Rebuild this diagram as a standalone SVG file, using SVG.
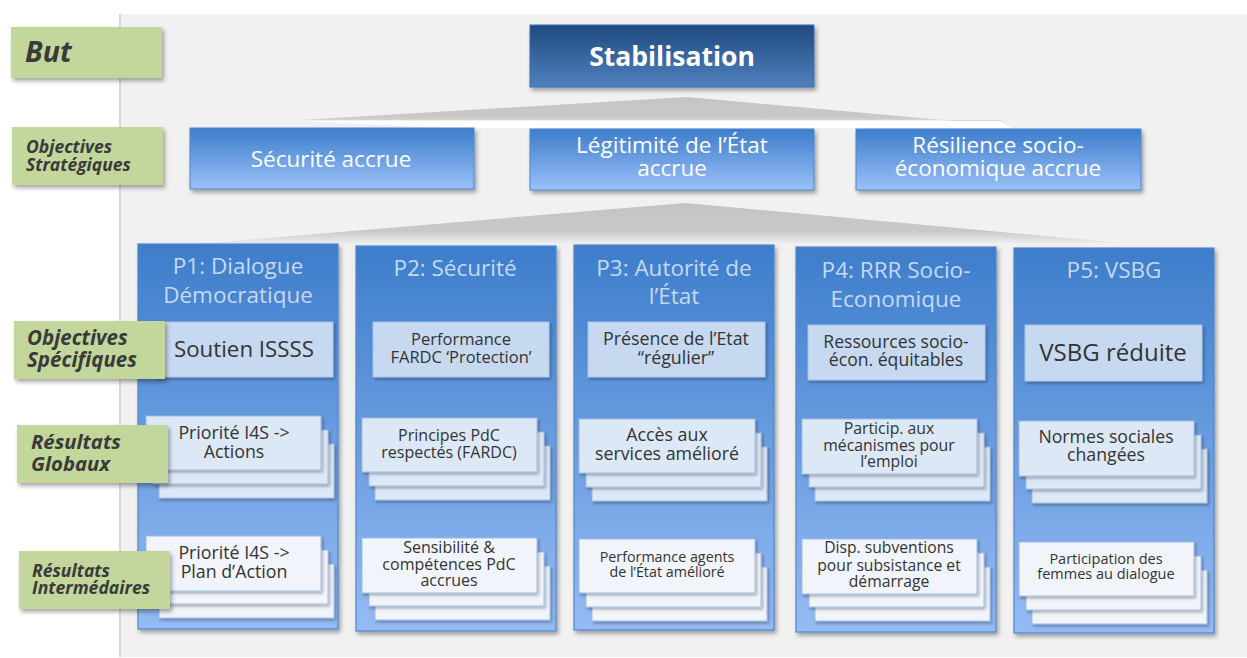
<svg xmlns="http://www.w3.org/2000/svg" width="1247" height="658" viewBox="0 0 1247 658">
<defs>
<linearGradient id="gStab" x1="0" y1="0" x2="0" y2="1"><stop offset="0" stop-color="#1f4a80"/><stop offset="1" stop-color="#4f81bd"/></linearGradient>
<linearGradient id="gStrat" x1="0" y1="0" x2="0" y2="1"><stop offset="0" stop-color="#3c7dcb"/><stop offset="1" stop-color="#9bc1f8"/></linearGradient>
<linearGradient id="gPil" x1="0" y1="0" x2="0" y2="1"><stop offset="0" stop-color="#3d7dcb"/><stop offset="1" stop-color="#95bbf4"/></linearGradient>
<linearGradient id="gTrap" x1="0" y1="0" x2="0" y2="1"><stop offset="0" stop-color="#c4c4c4"/><stop offset="0.7" stop-color="#c9c9c9"/><stop offset="1" stop-color="#efefef"/></linearGradient>
<filter id="sh" x="-10%" y="-10%" width="125%" height="130%"><feDropShadow dx="2" dy="3" stdDeviation="2" flood-color="#000" flood-opacity="0.35"/></filter>
<filter id="shs" x="-10%" y="-10%" width="125%" height="130%"><feDropShadow dx="1.5" dy="2" stdDeviation="1.5" flood-color="#000" flood-opacity="0.3"/></filter>
</defs>
<style>
text{font-family:"Open Sans","Noto Sans","DejaVu Sans",sans-serif;}
.lab{fill:#c3d69b;filter:url(#sh);}
.labt{font-weight:bold;font-style:italic;fill:#3a3a3a;}
.strat{fill:url(#gStrat);stroke:#4a86d0;stroke-width:1;filter:url(#sh);}
.st{fill:#ffffff;font-size:22.5px;text-anchor:middle;}
.pil{fill:url(#gPil);stroke:#4f86cc;stroke-width:1.2;filter:url(#sh);}
.pt{fill:#c6d9f1;font-size:22.5px;text-anchor:middle;}
.obj{fill:#c6d9f1;stroke:#a8c3e6;stroke-width:1;filter:url(#shs);}
.rg{fill:#dde8f6;stroke:#9fbce3;stroke-width:1;filter:url(#shs);}
.ri{fill:#f1f5fb;stroke:#9fbce3;stroke-width:1;filter:url(#shs);}
.bt{fill:#333333;text-anchor:middle;}
.arr{fill:#8db3e2;stroke:#6a98d2;stroke-width:1.2;}
</style>

<!-- background panel -->
<rect x="120" y="14" width="1127" height="643" fill="#f1f1f1"/>
<rect x="119" y="14" width="2" height="643" fill="#d8d8d8"/>

<g id="connectors">
  <polygon points="300,120 687,97 1010,126 1000,120" fill="url(#gTrap)"/>
  <polygon points="310,121 1000,121 1012,128 440,128" fill="#ffffff"/>
  <polygon points="197,244 685,203 1123,243" fill="url(#gTrap)"/>
  <polygon class="arr" points="242,382 267,397 255,397 255,413 229,413 229,397 217,397"/>
  <polygon class="arr" points="456,382 481,397 469,397 469,413 443,413 443,397 431,397"/>
  <polygon class="arr" points="669,382 694,397 682,397 682,413 656,413 656,397 644,397"/>
  <polygon class="arr" points="894,382 919,397 907,397 907,413 881,413 881,397 869,397"/>
  <polygon class="arr" points="1107,382 1132,397 1120,397 1120,413 1094,413 1094,397 1082,397"/>
  <polygon class="arr" points="243,502 268,517 256,517 256,533 230,533 230,517 218,517"/>
  <polygon class="arr" points="457,502 482,517 470,517 470,533 444,533 444,517 432,517"/>
  <polygon class="arr" points="670,502 695,517 683,517 683,533 657,533 657,517 645,517"/>
  <polygon class="arr" points="895,502 920,517 908,517 908,533 882,533 882,517 870,517"/>
  <polygon class="arr" points="1108,502 1133,517 1121,517 1121,533 1095,533 1095,517 1083,517"/>
</g>

<g id="stabilisation">
  <rect x="530" y="25" width="284" height="62" fill="url(#gStab)" stroke="#3e6da8" stroke-width="1" filter="url(#sh)"/>
  <text x="672" y="66" fill="#ffffff" font-size="26.5" font-weight="bold" text-anchor="middle">Stabilisation</text>
</g>

<g id="strat-securite">
  <rect class="strat" x="190" y="128" width="284" height="61"/>
  <text class="st" x="331" y="167">Sécurité accrue</text>
</g>
<g id="strat-legitimite">
  <rect class="strat" x="530" y="129" width="284" height="61"/>
  <text class="st" x="672" y="153">Légitimité de l’État</text>
  <text class="st" x="672" y="176">accrue</text>
</g>
<g id="strat-resilience">
  <rect class="strat" x="856" y="129" width="285" height="61"/>
  <text class="st" x="998" y="153">Résilience socio-</text>
  <text class="st" x="998" y="176">économique accrue</text>
</g>

<!-- Pillar 1 -->
<g id="p1">
  <rect class="pil" x="138" y="244" width="200" height="385"/>
  <text class="pt" x="238" y="274">P1: Dialogue</text>
  <text class="pt" x="238" y="303">Démocratique</text>
  <rect class="obj" x="155" y="322" width="178" height="55"/>
  <text class="bt" x="244" y="357" font-size="22.3">Soutien ISSSS</text>
  <rect class="rg" x="159" y="444" width="175" height="54"/>
  <rect class="rg" x="153" y="430" width="175" height="54"/>
  <rect class="rg" x="146" y="416" width="175" height="54"/>
  <text class="bt" x="234" y="439" font-size="17.8">Priorité I4S -&gt;</text>
  <text class="bt" x="234" y="458" font-size="17.8">Actions</text>
  <rect class="ri" x="159" y="564" width="175" height="54"/>
  <rect class="ri" x="153" y="550" width="175" height="54"/>
  <rect class="ri" x="146" y="536" width="175" height="55"/>
  <text class="bt" x="234" y="559" font-size="17.8">Priorité I4S -&gt;</text>
  <text class="bt" x="234" y="578" font-size="17.8">Plan d’Action</text>
</g>

<!-- Pillar 2 -->
<g id="p2">
  <rect class="pil" x="356" y="246" width="200" height="385"/>
  <text class="pt" x="455" y="276">P2: Sécurité</text>
  <rect class="obj" x="373" y="322" width="176" height="55"/>
  <text class="bt" x="461" y="345" font-size="16.5">Performance</text>
  <text class="bt" x="461" y="363" font-size="16.5">FARDC ‘Protection’</text>
  <rect class="rg" x="375" y="446" width="175" height="54"/>
  <rect class="rg" x="369" y="432" width="175" height="54"/>
  <rect class="rg" x="362" y="418" width="175" height="54"/>
  <text class="bt" x="449" y="441" font-size="16">Principes PdC</text>
  <text class="bt" x="449" y="458" font-size="16">respectés (FARDC)</text>
  <rect class="ri" x="375" y="566" width="175" height="54"/>
  <rect class="ri" x="369" y="552" width="175" height="54"/>
  <rect class="ri" x="362" y="538" width="175" height="55"/>
  <text class="bt" x="449" y="553" font-size="16">Sensibilité &amp;</text>
  <text class="bt" x="449" y="570" font-size="16">compétences PdC</text>
  <text class="bt" x="449" y="586" font-size="16">accrues</text>
</g>

<!-- Pillar 3 -->
<g id="p3">
  <rect class="pil" x="574" y="245" width="200" height="385"/>
  <text class="pt" x="674" y="276">P3: Autorité de</text>
  <text class="pt" x="674" y="304">l’État</text>
  <rect class="obj" x="588" y="322" width="177" height="55"/>
  <text class="bt" x="676" y="345" font-size="17.8">Présence de l’Etat</text>
  <text class="bt" x="676" y="364" font-size="17.8">“régulier”</text>
  <rect class="rg" x="592" y="447" width="175" height="54"/>
  <rect class="rg" x="586" y="433" width="175" height="54"/>
  <rect class="rg" x="579" y="419" width="176" height="54"/>
  <text class="bt" x="667" y="441" font-size="17.8">Accès aux</text>
  <text class="bt" x="667" y="460" font-size="17.8">services amélioré</text>
  <rect class="ri" x="592" y="567" width="175" height="54"/>
  <rect class="ri" x="586" y="553" width="175" height="54"/>
  <rect class="ri" x="579" y="539" width="176" height="54"/>
  <text class="bt" x="667" y="562" font-size="14.3">Performance agents</text>
  <text class="bt" x="667" y="577" font-size="14.3">de l’État amélioré</text>
</g>

<!-- Pillar 4 -->
<g id="p4">
  <rect class="pil" x="796" y="247" width="200" height="385"/>
  <text class="pt" x="896" y="278">P4: RRR Socio-</text>
  <text class="pt" x="896" y="307">Economique</text>
  <rect class="obj" x="808" y="325" width="177" height="55"/>
  <text class="bt" x="896" y="348" font-size="17.6">Ressources socio-</text>
  <text class="bt" x="896" y="366" font-size="17.6">écon. équitables</text>
  <rect class="rg" x="815" y="447" width="175" height="54"/>
  <rect class="rg" x="809" y="433" width="175" height="54"/>
  <rect class="rg" x="802" y="419" width="175" height="55"/>
  <text class="bt" x="889" y="434" font-size="15.8">Particip. aux</text>
  <text class="bt" x="889" y="451" font-size="15.8">mécanismes pour</text>
  <text class="bt" x="889" y="467" font-size="15.8">l’emploi</text>
  <rect class="ri" x="815" y="567" width="175" height="54"/>
  <rect class="ri" x="809" y="553" width="175" height="54"/>
  <rect class="ri" x="802" y="539" width="175" height="55"/>
  <text class="bt" x="889" y="553" font-size="15.7">Disp. subventions</text>
  <text class="bt" x="889" y="571" font-size="15.7">pour subsistance et</text>
  <text class="bt" x="889" y="587" font-size="15.7">démarrage</text>
</g>

<!-- Pillar 5 -->
<g id="p5">
  <rect class="pil" x="1014" y="248" width="200" height="385"/>
  <text class="pt" x="1114" y="278">P5: VSBG</text>
  <rect class="obj" x="1025" y="325" width="177" height="56"/>
  <text class="bt" x="1113" y="361" font-size="24">VSBG réduite</text>
  <rect class="rg" x="1032" y="449" width="175" height="54"/>
  <rect class="rg" x="1026" y="435" width="175" height="54"/>
  <rect class="rg" x="1019" y="421" width="175" height="55"/>
  <text class="bt" x="1106" y="443" font-size="17.7">Normes sociales</text>
  <text class="bt" x="1106" y="461" font-size="17.7">changées</text>
  <rect class="ri" x="1032" y="570" width="175" height="54"/>
  <rect class="ri" x="1026" y="556" width="175" height="54"/>
  <rect class="ri" x="1019" y="542" width="175" height="54"/>
  <text class="bt" x="1106" y="564" font-size="14.5">Participation des</text>
  <text class="bt" x="1106" y="579" font-size="14.5">femmes au dialogue</text>
</g>

<!-- Level labels -->
<g id="label-but">
  <rect class="lab" x="11" y="27" width="151" height="51"/>
  <text class="labt" x="25" y="62" font-size="28.5">But</text>
</g>
<g id="label-strategiques">
  <rect class="lab" x="12" y="127" width="151" height="58"/>
  <text class="labt" x="26" y="153" font-size="17.5">Objectives</text>
  <text class="labt" x="26" y="171" font-size="17.5">Stratégiques</text>
</g>
<g id="label-specifiques">
  <rect class="lab" x="14" y="321" width="151" height="58"/>
  <text class="labt" x="27" y="345" font-size="20.5">Objectives</text>
  <text class="labt" x="27" y="367" font-size="20.5">Spécifiques</text>
</g>
<g id="label-globaux">
  <rect class="lab" x="17" y="425" width="151" height="58"/>
  <text class="labt" x="31" y="449" font-size="20.3">Résultats</text>
  <text class="labt" x="31" y="471" font-size="20.3">Globaux</text>
</g>
<g id="label-intermediaires">
  <rect class="lab" x="19" y="551" width="151" height="58"/>
  <text class="labt" x="32" y="577" font-size="17.6">Résultats</text>
  <text class="labt" x="32" y="594" font-size="17.6">Intermédaires</text>
</g>
</svg>
